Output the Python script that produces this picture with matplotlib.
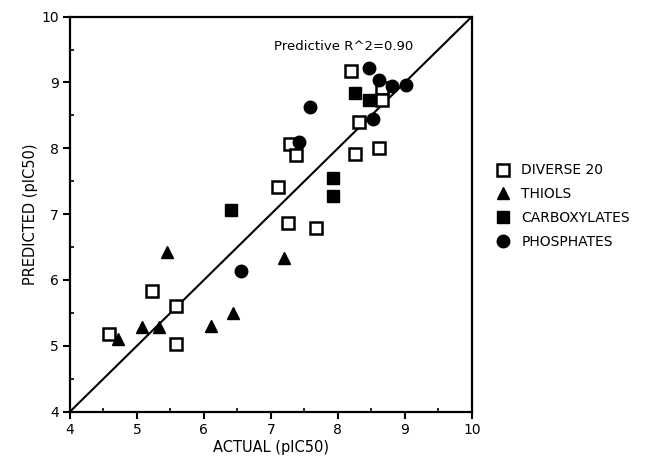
import numpy as np
import matplotlib
matplotlib.use("Agg")
from matplotlib import pyplot as plt

# values
diverse_x = [8.20, 8.66, 8.66, 8.32, 7.28, 7.38, 8.26, 8.61, 7.11, 7.25, 7.68, 5.22, 5.58, 4.59, 5.59]
diverse_y = [9.17, 8.91, 8.73, 8.40, 8.06, 7.90, 7.91, 8.00, 7.41, 6.87, 6.79, 5.83, 5.61, 5.18, 5.03]

thiols_x = [5.45, 7.20, 6.43, 5.08, 5.33, 6.11, 4.71]
thiols_y = [6.42, 6.33, 5.50, 5.29, 5.28, 5.30, 5.10]

carbox_x = [8.25, 8.46, 7.92, 7.92, 6.40]
carbox_y = [8.84, 8.74, 7.55, 7.28, 7.07]

phos_x = [8.46, 8.61, 8.81, 9.02, 7.59, 8.52, 7.42, 6.55]
phos_y = [9.22, 9.03, 8.94, 8.96, 8.62, 8.44, 8.10, 6.13]

ticks = [4, 5, 6, 7, 8, 9, 10]
r2_text = "Predictive R^2=0.90"

plt.rcParams['font.family'] = ['DejaVu Sans']

fig = plt.figure(figsize=(6.45, 4.62), dpi=100)
ax = fig.add_axes([0.1085, 0.109, 0.623, 0.855])

ax.plot([4, 10], [4, 10], '-', color='black', linewidth=1.5, zorder=1)

ax.plot(diverse_x, diverse_y, 's', markersize=8, markerfacecolor='white',
        markeredgecolor='black', markeredgewidth=1.8, label='DIVERSE 20', zorder=3)
ax.plot(thiols_x, thiols_y, '^', markersize=9, color='black', label='THIOLS', zorder=3)
ax.plot(carbox_x, carbox_y, 's', markersize=8.5, color='black', label='CARBOXYLATES', zorder=3)
ax.plot(phos_x, phos_y, 'o', markersize=9, color='black', label='PHOSPHATES', zorder=3)

ax.set_xlim(4, 10)
ax.set_ylim(4, 10)
ax.set_xticks(ticks)
ax.set_yticks(ticks)
ax.set_xticks(np.arange(4.5, 10, 1.0), minor=True)
ax.set_yticks(np.arange(4.5, 10, 1.0), minor=True)
ax.tick_params(which='major', direction='out', length=5, width=1.5, labelsize=10, pad=3)
ax.tick_params(which='minor', direction='in', length=3, width=1.2)
for s in ax.spines.values():
    s.set_linewidth(1.6)

ax.text(7.05, 9.54, r2_text, fontsize=9.5, ha='left', va='center')

ax.set_xlabel('ACTUAL (pIC50)', fontsize=10.5, labelpad=2)
ax.set_ylabel('PREDICTED (pIC50)', fontsize=10.5, labelpad=2)

ax.legend(loc='upper left', bbox_to_anchor=(1.03, 0.66), frameon=False,
          fontsize=10, handletextpad=0.8, labelspacing=0.7, handlelength=1.0)

fig.savefig('out.png', dpi=100)
